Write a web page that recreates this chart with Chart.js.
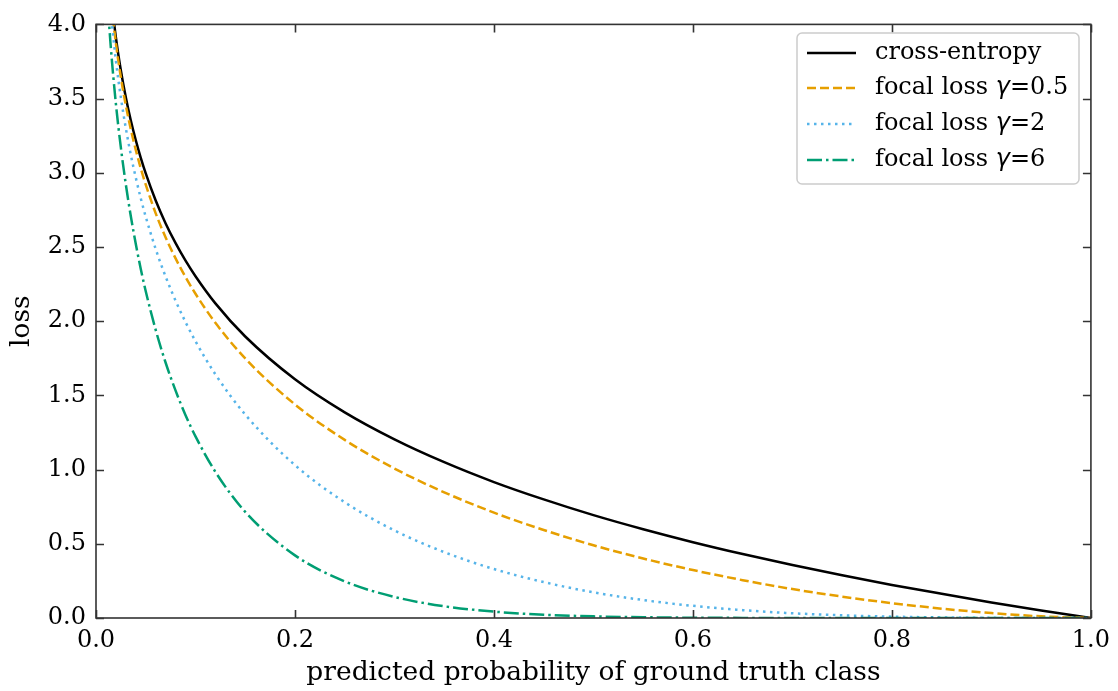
<!DOCTYPE html>
<html>
<head>
<meta charset="utf-8">
<script src="https://cdn.jsdelivr.net/npm/chart.js@4"></script>
<style>
  body { margin: 0; background: #fff; }
</style>
</head>
<body>
<canvas id="lossChart" width="1118" height="691"></canvas>
<script>
const probs = [0.012, 0.015, 0.02, 0.025, 0.03, 0.035, 0.04, 0.045, 0.05, 0.06, 0.07, 0.08, 0.09, 0.1, 0.12, 0.15,
    0.2, 0.25, 0.3, 0.35, 0.4, 0.45, 0.5, 0.55, 0.6, 0.65, 0.7, 0.75, 0.8, 0.85, 0.9, 0.95, 1.0];

const crossEntropy = [4.423, 4.200, 3.912, 3.689, 3.507, 3.352, 3.219, 3.101, 2.996, 2.813, 2.659, 2.526, 2.408, 2.303,
    2.120, 1.897, 1.609, 1.386, 1.204, 1.050, 0.916, 0.799, 0.693, 0.598, 0.511, 0.431, 0.357, 0.288, 0.223, 0.163,
    0.105, 0.051, 0.0];
const focalHalf = [4.396, 4.169, 3.873, 3.643, 3.454, 3.293, 3.154, 3.030, 2.920, 2.727, 2.564, 2.423, 2.297, 2.185,
    1.989, 1.749, 1.439, 1.200, 1.007, 0.847, 0.710, 0.593, 0.490, 0.401, 0.323, 0.255, 0.195, 0.144, 0.100, 0.063,
    0.033, 0.011, 0.0];
const focalTwo = [4.318, 4.075, 3.757, 3.507, 3.300, 3.121, 2.967, 2.828, 2.704, 2.486, 2.300, 2.138, 1.994, 1.865,
    1.642, 1.371, 1.030, 0.780, 0.590, 0.444, 0.330, 0.242, 0.173, 0.121, 0.082, 0.053, 0.032, 0.018, 0.009, 0.004,
    0.001, 0.0001, 0.0];
const focalSix = [4.113, 3.836, 3.465, 3.169, 2.921, 2.707, 2.520, 2.352, 2.202, 1.941, 1.720, 1.532, 1.367, 1.224,
    0.985, 0.715, 0.422, 0.247, 0.142, 0.079, 0.043, 0.022, 0.011, 0.005, 0.002, 0.0008, 0.0003, 0.0001, 0.0, 0.0,
    0.0, 0.0, 0.0];

const seriesNames = ['cross-entropy', 'focal loss γ=0.5', 'focal loss γ=2', 'focal loss γ=6'];
const gammaLabels = [null, '=0.5', '=2', '=6'];

const FONT = '"DejaVu Serif", serif';

function points(values) {
    return probs.map((p, i) => ({ x: p, y: values[i] }));
}

const styles = [
    { color: '#000000', dash: [] },
    { color: '#E69F00', dash: [9, 4] },
    { color: '#56B4E9', dash: [2.5, 4.5] },
    { color: '#009E73', dash: [15, 4, 2.5, 4] }
];

const allSeries = [crossEntropy, focalHalf, focalTwo, focalSix];

const datasets = allSeries.map((vals, i) => ({
    label: seriesNames[i],
    data: points(vals),
    borderColor: styles[i].color,
    borderDash: styles[i].dash,
    borderWidth: 2.5,
    borderCapStyle: 'butt',
    pointRadius: 0,
    cubicInterpolationMode: 'monotone',
    fill: false,
    clip: 0,
    order: 4 - i
}));

// frame, inward ticks on all four sides, legend box
const framePlugin = {
    id: 'frame',
    afterDraw(chart) {
        const ctx = chart.ctx;
        const a = chart.chartArea;
        const xs = chart.scales.x, ys = chart.scales.y;
        const tl = 8;
        ctx.save();
        ctx.strokeStyle = '#333';
        ctx.lineWidth = 1.6;
        ctx.strokeRect(a.left, a.top, a.right - a.left, a.bottom - a.top);
        ctx.beginPath();
        xs.ticks.forEach(t => {
            const px = Math.round(xs.getPixelForValue(t.value)) + 0.5;
            ctx.moveTo(px, a.bottom); ctx.lineTo(px, a.bottom - tl);
            ctx.moveTo(px, a.top); ctx.lineTo(px, a.top + tl);
        });
        ys.ticks.forEach(t => {
            const py = Math.round(ys.getPixelForValue(t.value)) + 0.5;
            ctx.moveTo(a.left, py); ctx.lineTo(a.left + tl, py);
            ctx.moveTo(a.right, py); ctx.lineTo(a.right - tl, py);
        });
        ctx.stroke();

        // legend
        const bx = 797, by = 33, bw = 282, bh = 151;
        ctx.beginPath();
        ctx.roundRect(bx, by, bw, bh, 5);
        ctx.fillStyle = 'rgba(255,255,255,0.85)';
        ctx.fill();
        ctx.strokeStyle = '#cccccc';
        ctx.lineWidth = 1.5;
        ctx.stroke();

        const rows = [53, 88, 124, 160];
        rows.forEach((ry, i) => {
            ctx.beginPath();
            ctx.setLineDash(styles[i].dash);
            ctx.strokeStyle = styles[i].color;
            ctx.lineWidth = 2.5;
            ctx.lineCap = 'butt';
            ctx.moveTo(807, ry); ctx.lineTo(856, ry);
            ctx.stroke();
            ctx.setLineDash([]);

            ctx.fillStyle = '#000';
            ctx.textBaseline = 'middle';
            ctx.textAlign = 'left';
            let x = 875;
            if (gammaLabels[i] === null) {
                ctx.font = '24px ' + FONT;
                ctx.fillText(seriesNames[i], x, ry);
            } else {
                ctx.font = '24px ' + FONT;
                ctx.fillText('focal loss ', x, ry);
                x += ctx.measureText('focal loss ').width;
                ctx.font = 'italic 24px "DejaVu Sans", sans-serif';
                ctx.fillText('γ', x, ry);
                x += ctx.measureText('γ').width;
                ctx.font = '24px ' + FONT;
                ctx.fillText(gammaLabels[i], x, ry);
            }
        });
        ctx.restore();
    }
};

new Chart(document.getElementById('lossChart').getContext('2d'), {
    type: 'line',
    data: { datasets: datasets },
    plugins: [framePlugin],
    options: {
        responsive: false,
        animation: false,
        layout: { padding: { left: 0, top: 21, right: 27, bottom: 0 } },
        plugins: {
            legend: { display: false },
            tooltip: { enabled: false }
        },
        scales: {
            x: {
                type: 'linear',
                min: 0,
                max: 1,
                grid: { display: false, drawTicks: false, tickLength: 0 },
                border: { display: false },
                ticks: {
                    stepSize: 0.2,
                    padding: 8,
                    maxRotation: 0,
                    autoSkip: false,
                    color: '#000',
                    font: { family: FONT, size: 24 },
                    callback: v => v.toFixed(1)
                },
                title: {
                    display: true,
                    text: 'predicted probability of ground truth class',
                    color: '#000',
                    font: { family: FONT, size: 26.5 },
                    padding: { top: 0, bottom: 2 }
                },
                afterFit: s => { s.height = 73; }
            },
            y: {
                min: 0,
                max: 4,
                grid: { display: false, drawTicks: false, tickLength: 0 },
                border: { display: false },
                ticks: {
                    stepSize: 0.5,
                    padding: 10,
                    autoSkip: false,
                    color: '#000',
                    font: { family: FONT, size: 24 },
                    callback: v => v.toFixed(1)
                },
                title: {
                    display: true,
                    text: 'loss',
                    color: '#000',
                    font: { family: FONT, size: 26.5 },
                    padding: { top: 6, bottom: 0 }
                },
                afterFit: s => { s.width = 96; }
            }
        }
    }
});
</script>
</body>
</html>
